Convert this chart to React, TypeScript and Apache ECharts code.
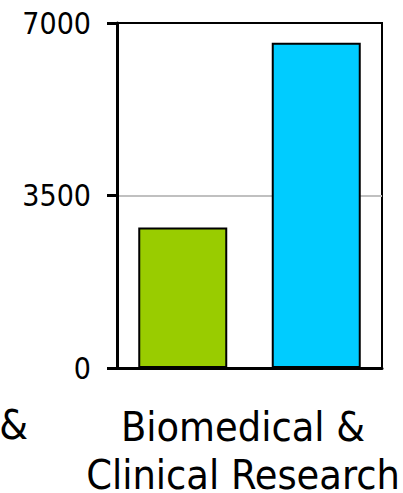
import React, { useEffect, useRef } from "react";
import * as echarts from "echarts";

const categories = ["Biomedical &\nClinical Research"];
const seriesNames = ["Series A", "Series B"];
const seriesValues = [[2850], [6600]];
const seriesColors = ["#99CC00", "#00CCFF"];
const yTicks = { min: 0, max: 7000, interval: 3500 };
const neighborLabelFragment = "&";

const FONT = "'DejaVu Sans Condensed', 'DejaVu Sans', sans-serif";

export default function App() {
  const ref = useRef<HTMLDivElement>(null);
  useEffect(() => {
    if (!ref.current) return;
    const chart = echarts.init(ref.current, null, { renderer: "svg" });
    chart.setOption({
      animation: false,
      backgroundColor: "#ffffff",
      grid: {
        left: 117,
        right: 21,
        top: 23,
        bottom: 125,
        containLabel: false,
        outerBoundsMode: "none",
        show: true,
        borderColor: "#000",
        borderWidth: 2,
        backgroundColor: "transparent",
      },
      xAxis: {
        type: "category",
        data: categories,
        axisLine: { show: true, lineStyle: { color: "#000", width: 3 } },
        axisTick: { show: false },
        axisLabel: {
          color: "#000",
          fontFamily: FONT,
          fontSize: 41,
          lineHeight: 48,
          margin: 35,
          interval: 0,
          padding: [0, 13, 0, 0],
        },
      },
      yAxis: {
        type: "value",
        min: yTicks.min,
        max: yTicks.max,
        interval: yTicks.interval,
        axisLine: { show: true, lineStyle: { color: "#000", width: 3 } },
        axisTick: { show: true, length: 10, lineStyle: { color: "#000", width: 3 } },
        axisLabel: {
          color: "#000",
          fontFamily: FONT,
          fontSize: 30,
          margin: 26,
          formatter: (v: number) => String(v),
        },
        splitLine: {
          show: true,
          lineStyle: {
            color: ["rgba(0,0,0,0)", "#c0c0c0", "rgba(0,0,0,0)"],
            width: 2,
          },
        },
      },
      series: seriesNames.map((name, i) => ({
        name,
        type: "bar",
        data: seriesValues[i],
        barWidth: 89,
        barGap: "50%",
        itemStyle: {
          color: seriesColors[i],
          borderColor: "#000",
          borderWidth: 2,
        },
      })),
      graphic: [
        {
          type: "text",
          right: 375,
          top: 404,
          style: {
            text: neighborLabelFragment,
            fill: "#000",
            font: `41px ${FONT}`,
          },
        },
      ],
    });
    return () => chart.dispose();
  }, []);
  return <div ref={ref} style={{ width: 403, height: 493, position: "absolute", left: 0, top: 0 }} />;
}
